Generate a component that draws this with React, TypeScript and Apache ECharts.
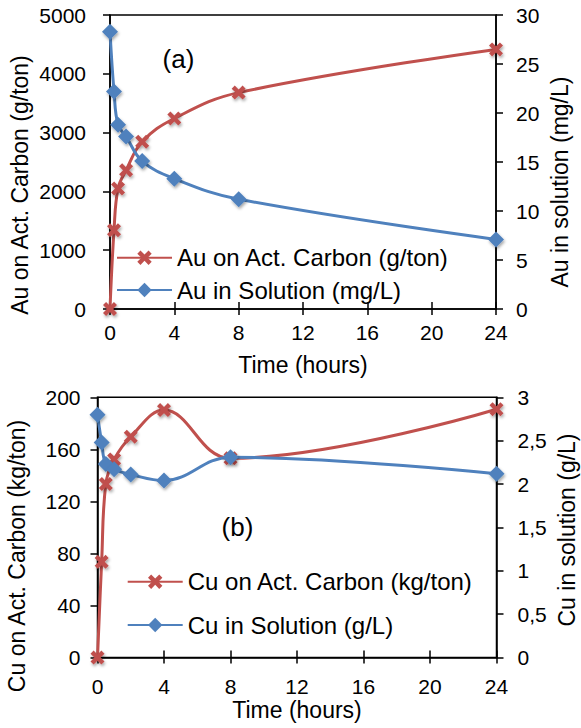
import React, { useEffect, useRef } from "react";
import * as echarts from "echarts";

const timeHours = [0, 0.25, 0.5, 1, 2, 4, 8, 24];
const auOnCarbon = [0, 1340, 2050, 2360, 2845, 3240, 3680, 4415];
const auInSolution = [28.3, 22.2, 18.8, 17.6, 15.1, 13.3, 11.2, 7.1];
const cuOnCarbon = [0, 73.6, 133.4, 152.3, 169.7, 190.2, 153.1, 190.8];
const cuInSolution = [2.8, 2.48, 2.23, 2.17, 2.11, 2.04, 2.31, 2.12];

const seriesNames = [
  "Au on Act. Carbon (g/ton)",
  "Au in Solution (mg/L)",
  "Cu on Act. Carbon (kg/ton)",
  "Cu in Solution (g/L)",
];

const FONT = '"Liberation Sans", Arial, sans-serif';
const RED = "#C0504D";
const BLUE = "#4F81BD";
const X_MARK =
  "path://M0,2.2L2.2,0L5,2.8L7.8,0L10,2.2L7.2,5L10,7.8L7.8,10L5,7.2L2.2,10L0,7.8L2.8,5Z";

const pair = (xs: number[], ys: number[]) => xs.map((x, i) => [x, ys[i]]);

const axisLine = { show: true, onZero: false, lineStyle: { color: "#000", width: 1.5 } };
const labelStyle = { color: "#000", fontSize: 21, fontFamily: FONT };

function makeX(gridIndex: number, margin: number) {
  return [
    {
      type: "value",
      gridIndex,
      position: "bottom",
      min: 0,
      max: 24,
      interval: 4,
      axisLine,
      axisTick: { show: true, inside: false, length: 6, lineStyle: { color: "#000", width: 1.5 } },
      axisLabel: { ...labelStyle, margin, formatter: (v: number) => String(v) },
      splitLine: { show: false },
    },
    {
      type: "value",
      gridIndex,
      position: "bottom",
      min: 0,
      max: 24,
      interval: 4,
      axisLine: { show: false, onZero: false },
      axisTick: { show: true, inside: true, length: 7, lineStyle: { color: "#000", width: 1.5 } },
      axisLabel: { show: false },
      splitLine: { show: false },
    },
  ];
}

function makeY(
  gridIndex: number,
  position: string,
  max: number,
  interval: number,
  margin: number,
  comma = false
) {
  return {
    type: "value",
    gridIndex,
    position,
    min: 0,
    max,
    interval,
    axisLine,
    axisTick: { show: true, inside: false, length: 7, lineStyle: { color: "#000", width: 1.5 } },
    axisLabel: {
      ...labelStyle,
      margin,
      formatter: (v: number) => (comma ? String(v).replace(".", ",") : String(v)),
    },
    splitLine: { show: false },
  };
}

const shadow = {
  shadowBlur: 3,
  shadowColor: "rgba(0,0,0,0.35)",
  shadowOffsetX: 1,
  shadowOffsetY: 2,
};

function lineSeries(
  name: string,
  data: number[][],
  color: string,
  xAxisIndex: number,
  yAxisIndex: number,
  isX: boolean
) {
  return {
    type: "line",
    name,
    data,
    xAxisIndex,
    yAxisIndex,
    smooth: 0.4,
    symbol: isX ? X_MARK : "diamond",
    symbolSize: isX ? 14 : 16,
    lineStyle: { color, width: 3 },
    itemStyle: { color, ...shadow },
  };
}

function titleText(text: string, x: number, y: number, rotate: boolean, size = 23) {
  return {
    type: "text",
    x,
    y,
    rotation: rotate ? Math.PI / 2 : 0,
    style: {
      text,
      font: `${size}px ${FONT}`,
      fill: "#000",
      align: "center",
      verticalAlign: "middle",
    },
  };
}

export default function App() {
  const ref = useRef<HTMLDivElement>(null);
  useEffect(() => {
    if (!ref.current) return;
    const chart = echarts.init(ref.current, undefined, { renderer: "svg" });
    const legendText = { color: "#000", fontSize: 24, lineHeight: 26, fontFamily: FONT };
    chart.setOption({
      animation: false,
      backgroundColor: "#fff",
      grid: [
        { left: 110, top: 15, width: 386, height: 294, show: true, borderColor: "#000", borderWidth: 1.5 },
        { left: 97.5, top: 397.3, width: 399, height: 260.3, show: true, borderColor: "#000", borderWidth: 1.5 },
      ],
      xAxis: [...makeX(0, 13), ...makeX(1, 18)],
      yAxis: [
        makeY(0, "left", 5000, 1000, 24),
        makeY(0, "right", 30, 5, 20),
        makeY(1, "left", 200, 40, 17),
        makeY(1, "right", 3, 0.5, 21, true),
      ],
      legend: [
        {
          data: [seriesNames[0], seriesNames[1]],
          orient: "vertical",
          left: 116,
          top: 244.7,
          itemWidth: 55,
          itemHeight: 18,
          itemGap: 6.3,
          padding: 0,
          selectedMode: false,
          textStyle: legendText,
        },
        {
          data: [seriesNames[2], seriesNames[3]],
          orient: "vertical",
          left: 126.7,
          top: 568.7,
          itemWidth: 55,
          itemHeight: 18,
          itemGap: 17.3,
          padding: 0,
          selectedMode: false,
          textStyle: legendText,
        },
      ],
      series: [
        lineSeries(seriesNames[0], pair(timeHours, auOnCarbon), RED, 0, 0, true),
        lineSeries(seriesNames[1], pair(timeHours, auInSolution), BLUE, 0, 1, false),
        lineSeries(seriesNames[2], pair(timeHours, cuOnCarbon), RED, 2, 2, true),
        lineSeries(seriesNames[3], pair(timeHours, cuInSolution), BLUE, 2, 3, false),
      ],
      graphic: [
        titleText("(a)", 178.5, 59.3, false, 26),
        titleText("(b)", 237.5, 526.7, false, 26),
        titleText("Au on Act. Carbon (g/ton)", 20, 185, true),
        titleText("Au in solution (mg/L)", 560, 182, true),
        titleText("Time (hours)", 303, 365, false),
        titleText("Cu on Act. Carbon (kg/ton)", 17, 556, true),
        titleText("Cu in solution (g/L)", 567, 530, true),
        titleText("Time (hours)", 297, 710, false),
      ],
    });
    return () => chart.dispose();
  }, []);
  return (
    <div
      ref={ref}
      style={{ position: "absolute", left: 0, top: 0, width: 581, height: 728 }}
    />
  );
}
